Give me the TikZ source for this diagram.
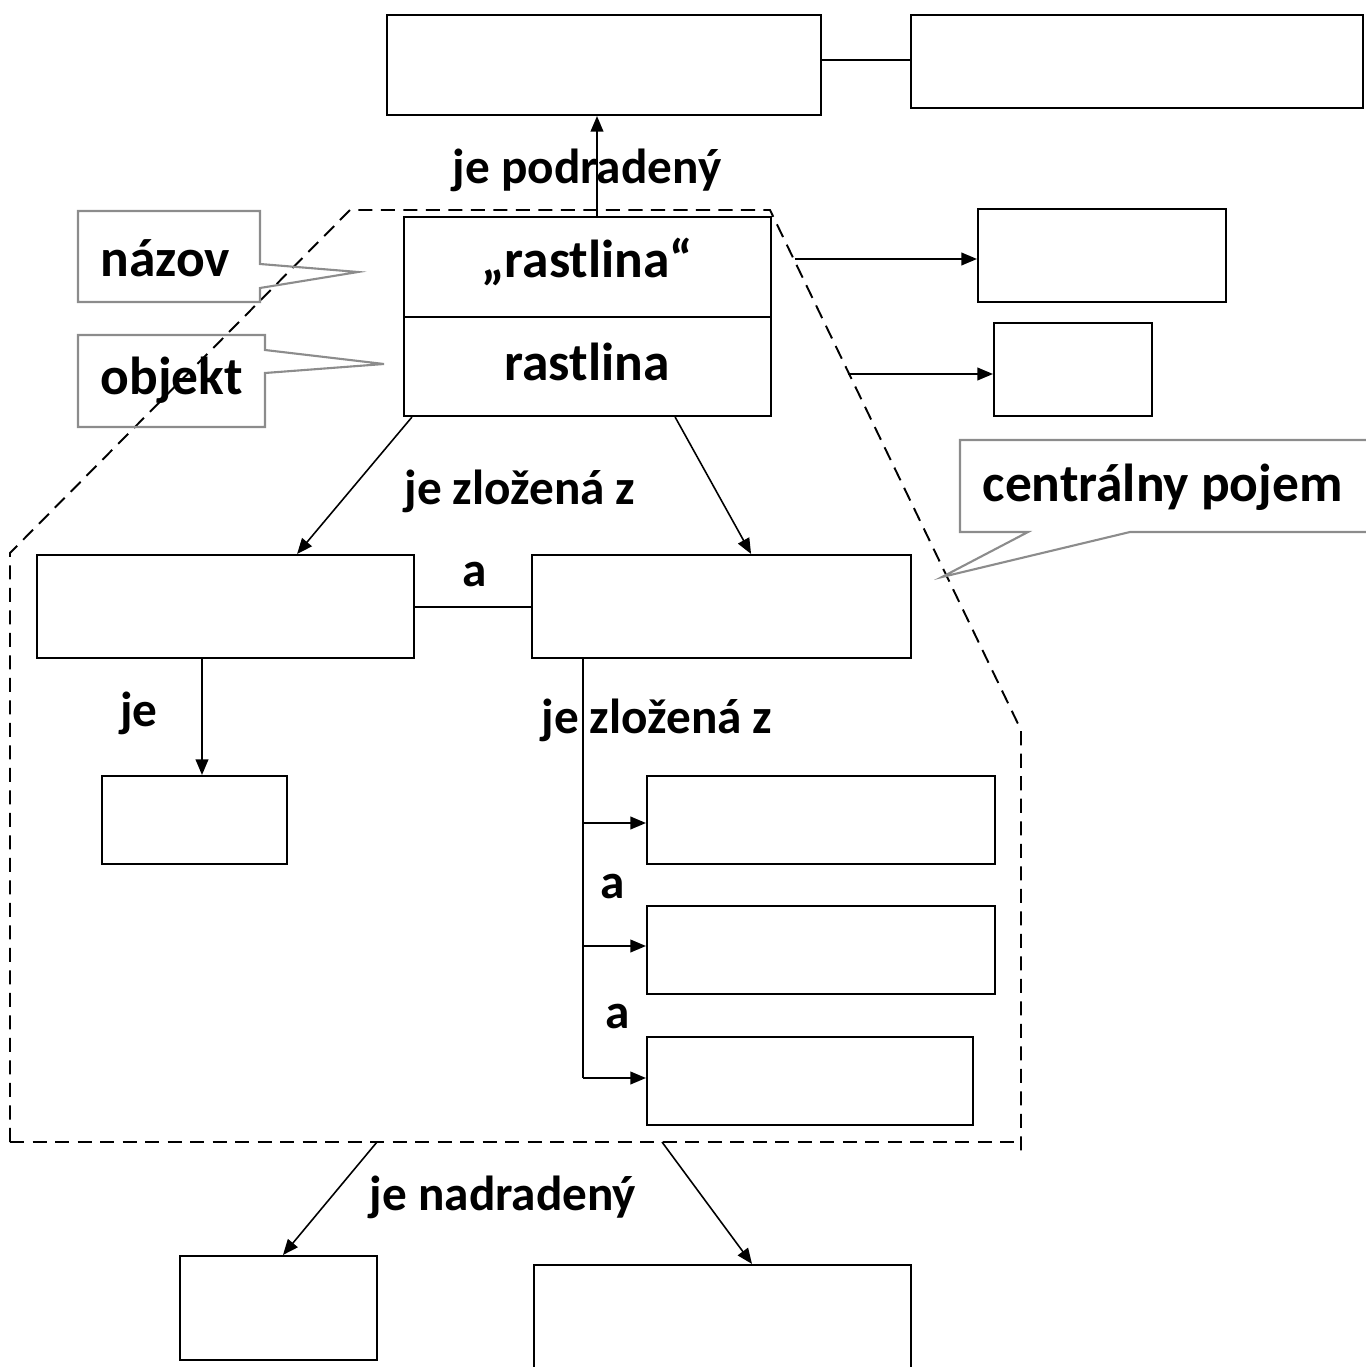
\documentclass[tikz,border=0pt]{standalone}
\usepackage{fontspec}
\setmainfont{Carlito}
\usetikzlibrary{arrows.meta,fit,calc}

\tikzset{
  box/.style={draw=black, line width=0.6pt, inner sep=0pt, fill=none},
  conn/.style={draw=black, line width=0.45pt},
  arr/.style={conn, -{Triangle[length=4.4pt,width=3.6pt]}},
  group/.style={draw=black, line width=0.55pt, dash pattern=on 4pt off 2.4pt},
  callout/.style={draw=black!45, line width=0.6pt},
  lbl/.style={font=\fontsize{15.2}{17}\selectfont\bfseries, inner sep=0pt},
  rel/.style={font=\fontsize{14}{16}\selectfont\bfseries, inner sep=0pt},
}

\begin{document}
\begin{tikzpicture}[x=0.01cm, y=-0.01cm]
\useasboundingbox (0,0) rectangle (1365,1367);

% superordinate concepts at the top
\node[box, fit={(387,15) (821,115)}] (sup) {};
\node[box, fit={(911,15) (1363,108)}] (sup2) {};
\draw[conn, line width=0.6pt] (sup.east |- 0,60) -- (sup2.west |- 0,60);

% central concept: name and object
\node[box, fit={(404,217) (771,317)}] (name) {};
\node[box, fit={(404,317) (771,416)}] (obj) {};
\node[lbl] (nameT) at (587,262) {„rastlina“};
\node[lbl] (objT) at (587,362) {rastlina};

% boundary of the central concept
\draw[group] (10,1142) -- (10,553) -- (350,210) -- (770,210) -- (1021,730) -- (1021,1155);
\draw[group] (10,1142) -- (1021,1142);
\coordinate (gR1) at (795,259);
\coordinate (gR2) at (848,374);
\coordinate (gB1) at (377,1142);
\coordinate (gB2) at (662,1142);

% upward relation
\draw[arr] (name.north -| 597,0) -- (sup.south -| 597,0);
\node[rel] (lsub) at (587,170) {je podradený};

% boxes on the right
\node[box, fit={(978,209) (1226,302)}] (r1) {};
\node[box, fit={(994,323) (1152,416)}] (r2) {};
\draw[arr] (gR1) -- (r1.west |- gR1);
\draw[arr] (gR2) -- (r2.west |- gR2);

% parts of the central concept
\node[box, fit={(37,555) (414,658)}] (pL) {};
\node[box, fit={(532,555) (911,658)}] (pR) {};
\draw[arr] ([xshift=0.09cm]obj.south west) -- ([xshift=2.61cm]pL.north west);
\draw[arr] ([xshift=2.72cm]obj.south west) -- ([xshift=2.20cm]pR.north west);
\node[rel] (lcomp) at (520,491) {je zložená z};
\draw[conn] (pL.east |- 0,607) -- (pR.west |- 0,607);
\node[rel] (land) at (475,575) {a};

% left branch
\node[box, fit={(102,776) (287,864)}] (q1) {};
\draw[arr] (pL.south -| 202,0) -- (q1.north -| 202,0);
\node[rel] (lis) at (139,713) {je};

% right branch
\node[box, fit={(647,776) (995,864)}] (s1) {};
\node[box, fit={(647,906) (995,994)}] (s2) {};
\node[box, fit={(647,1037) (973,1125)}] (s3) {};
\coordinate (trunk) at (583,1078);
\draw[conn] (pR.south -| trunk) -- (trunk);
\draw[arr] (583,823) -- (s1.west |- 0,823);
\draw[arr] (583,946) -- (s2.west |- 0,946);
\draw[arr] (trunk) -- (s3.west |- trunk);
\node[rel] (lcomp2) at (657,720) {je zložená z};
\node[rel] (la1) at (613,887) {a};
\node[rel] (la2) at (618,1017) {a};

% subordinate concepts at the bottom
\node[box, fit={(180,1256) (377,1360)}] (b1) {};
\node[box, fit={(534,1265) (911,1380)}] (b2) {};
\draw[arr] (gB1) -- (b1.north -| 283,0);
\draw[arr] (gB2) -- (b2.north -| 752,0);
\node[rel] (lsup) at (503,1197) {je nadradený};

% explanatory callouts
\draw[callout] (78,211) -- (260,211) -- (260,264) -- (358,272) -- (260,288) -- (260,302) -- (78,302) -- cycle;
\node[lbl, anchor=west] (cName) at (100,258) {názov};
\draw[callout] (78,335) -- (265,335) -- (265,350) -- (384,364) -- (265,373) -- (265,427) -- (78,427) -- cycle;
\node[lbl, anchor=west] (cObj) at (100,380) {objekt};
\draw[callout] (1375,440) -- (960,440) -- (960,532) -- (1028,532) -- (942,577) -- (1130,532) -- (1375,532);
\node[lbl, anchor=west] (cCen) at (982,487) {centrálny pojem};
\end{tikzpicture}
\end{document}
